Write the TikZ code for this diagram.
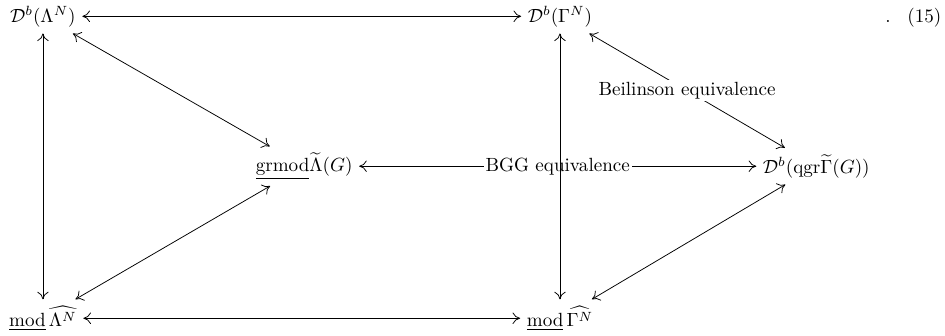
\documentclass[tikz,border=0pt]{standalone}
\usepackage{amsmath}
\usetikzlibrary{arrows.meta}

\begin{document}
\begin{tikzpicture}[
    obj/.style={inner sep=3.3pt},
    arr/.style={<->, >={Computer Modern Rightarrow[length=4pt, width=6pt]}},
    lab/.style={fill=white, inner sep=1pt}
]
\useasboundingbox (0,0) rectangle (17.40,-6.17);
\node[obj] (dl) at (0.79,-0.30) {$\mathcal{D}^b(\Lambda^N)$};
\node[obj] (dg) at (10.31,-0.30) {$\mathcal{D}^b(\Gamma^N)$};
\node[obj] (grl) at (5.60,-3.06) {$\underline{\mathrm{grmod}}\widetilde{\Lambda}(G)$};
\node[obj] (qgr) at (15.03,-3.06) {$\mathcal{D}^b(\mathrm{qgr}\widetilde{\Gamma}(G))$};
\node[obj] (ml) at (0.79,-5.86) {$\underline{\mathrm{mod}}\,\widehat{\Lambda^N}$};
\node[obj] (mg) at (10.31,-5.86) {$\underline{\mathrm{mod}}\,\widehat{\Gamma^N}$};
% equation number
\coordinate (eqdot) at (16.35,0);
\coordinate (eqnum) at (17.02,0);
\node[anchor=base] (dot) at (dl.base -| eqdot) {.};
\node[anchor=base] (num) at (dl.base -| eqnum) {(15)};
\draw[arr] (dl) -- (dg);
\draw[arr] (dl) -- (ml);
\draw[arr] (dl) -- (grl);
\draw[arr] (grl) -- (ml);
\draw[arr] (grl) -- node[lab]{BGG equivalence} (qgr);
\draw[arr] (dg) -- (mg);
\draw[arr] (dg) -- node[lab]{Beilinson equivalence} (qgr);
\draw[arr] (qgr) -- (mg);
\draw[arr] (ml) -- (mg);
\end{tikzpicture}
\end{document}
